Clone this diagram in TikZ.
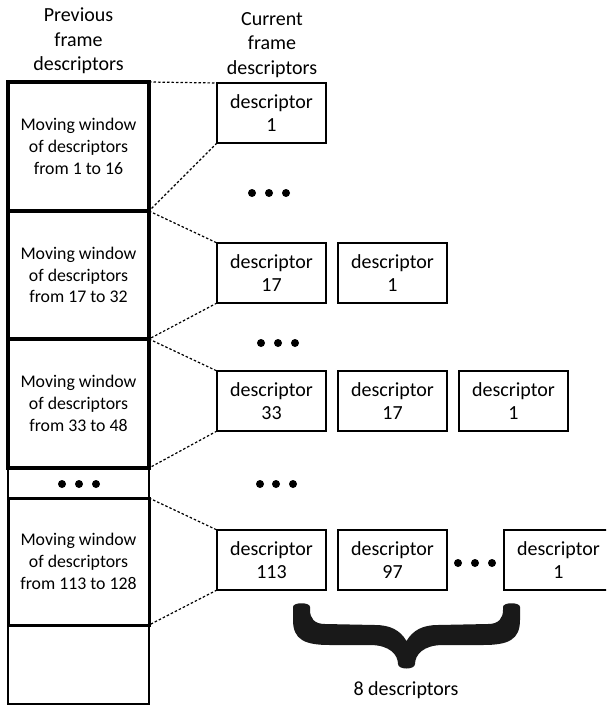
\documentclass[tikz,border=0pt]{standalone}
\usepackage{fontspec}
\setmainfont{Carlito}
\begin{document}
\begin{tikzpicture}[x=1pt,y=-1pt,
  winbox/.style={draw, line width=3.5pt, minimum width=141pt, inner sep=0pt, outer sep=0pt, align=center, font=\fontsize{17.8}{21.7}\selectfont},
  cellbox/.style={draw, line width=1.5pt, minimum width=141pt, inner sep=0pt, outer sep=0pt},
  descbox/.style={draw, line width=2pt, minimum width=109pt, minimum height=60pt, inner sep=0pt, outer sep=0pt, align=center, font=\fontsize{20}{23.5}\selectfont},
  head/.style={align=center, font=\fontsize{20}{24.5}\selectfont},
  link/.style={line width=1.2pt, dash pattern=on 2.5pt off 2pt},
  dotc/.style={circle, fill=black, inner sep=0pt, minimum size=8pt}]
\useasboundingbox (0,0) rectangle (606,706);
\clip (0,0) rectangle (606,706);

% headers
\node[head] (hp) at (78.5,41) {Previous\\frame\\descriptors};
\node[head] (hc) at (272,45) {Current\\frame\\descriptors};

% left column cells
\node[cellbox, minimum height=30pt] (dc) at (78.5,483) {};
\node[cellbox, minimum height=79pt] (bc) at (78.5,664.5) {};
\node[winbox, minimum height=129pt] (w1) at (78.5,146.5) {Moving window\\of descriptors\\from 1 to 16};
\node[winbox, minimum height=128pt] (w2) at (78.5,275) {Moving window\\of descriptors\\from 17 to 32};
\node[winbox, minimum height=129pt] (w3) at (78.5,403.5) {Moving window\\of descriptors\\from 33 to 48};
\node[winbox, line width=3pt, minimum height=127pt] (w4) at (78.5,561.5) {Moving window\\of descriptors\\from 113 to 128};
\node[dotc] (lc1) at (62,484) {};
\node[dotc] (lc2) at (79,484) {};
\node[dotc] (lc3) at (96,484) {};

% current frame descriptors
\node[descbox] (d1) at (271.5,113) {descriptor\\1};
\node[descbox] (d17) at (271.5,273) {descriptor\\17};
\node[descbox] (d1b) at (392.5,273) {descriptor\\1};
\node[descbox] (d33) at (271.5,401) {descriptor\\33};
\node[descbox] (d17b) at (392.5,401) {descriptor\\17};
\node[descbox] (d1c) at (513.5,401) {descriptor\\1};
\node[descbox] (d113) at (271.5,560) {descriptor\\113};
\node[descbox] (d97) at (392.5,560) {descriptor\\97};
\node[descbox] (d1d) at (558.5,560) {descriptor\\1};

% ellipsis dots
\node[dotc] (a1) at (252,193) {};
\node[dotc] (a2) at (269,193) {};
\node[dotc] (a3) at (286,193) {};
\node[dotc] (b1) at (261,343) {};
\node[dotc] (b2) at (278,343) {};
\node[dotc] (b3) at (295,343) {};
\node[dotc] (c1) at (260,484) {};
\node[dotc] (c2) at (276,484) {};
\node[dotc] (c3) at (293,484) {};
\node[dotc] (e1) at (458,563) {};
\node[dotc] (e2) at (475,563) {};
\node[dotc] (e3) at (492,563) {};

% dotted connectors
\draw[link] (w1.north east) -- (d1.north west);
\draw[link] (d1.south west) -- (w1.south east);
\draw[link] (w2.north east) -- (d17.north west);
\draw[link] (d17.south west) -- (w2.south east);
\draw[link] (w3.north east) -- (d33.north west);
\draw[link] (d33.south west) -- (w3.south east);
\draw[link] (w4.north east) -- (d113.north west);
\draw[link] (d113.south west) -- (w4.south east);

% brace
\fill[black!90] (406.5,641)
  .. controls (400,630) and (390,625) .. (375,625)
  -- (325,624)
  .. controls (314,624) and (310,618) .. (310,610)
  -- (310,607)
  .. controls (310,602) and (293,602) .. (293,607)
  -- (293,620)
  .. controls (293,640) and (305,645) .. (330,645)
  -- (370,645)
  .. controls (390,645) and (398,655) .. (398,664)
  .. controls (398,670) and (415,670) .. (415,664)
  .. controls (415,655) and (423,645) .. (443,645)
  -- (483,645)
  .. controls (508,645) and (520,640) .. (520,620)
  -- (520,607)
  .. controls (520,602) and (503,602) .. (503,607)
  -- (503,610)
  .. controls (503,618) and (499,624) .. (488,624)
  -- (438,625)
  .. controls (423,625) and (413,630) .. (406.5,641) -- cycle;
\node[head] (lbl) at (406,690) {8 descriptors};
\end{tikzpicture}
\end{document}
